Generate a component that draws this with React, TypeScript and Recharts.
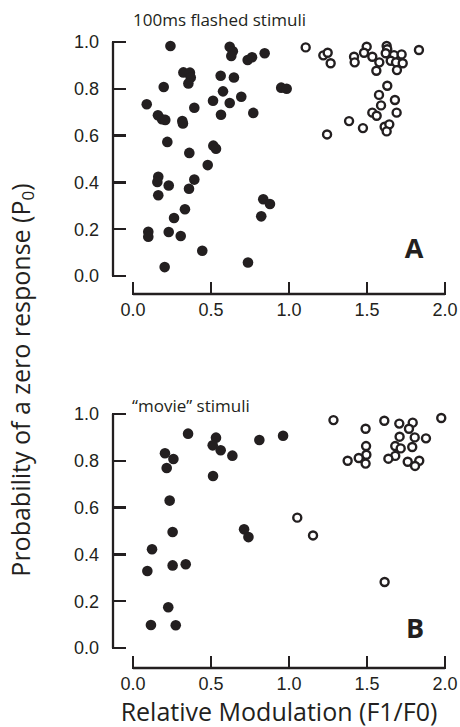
import { Label, Scatter, ScatterChart, XAxis, YAxis } from "recharts";

const INK = "#231f20";
const TICK_FONT = "'Liberation Sans', Arial, sans-serif";
const TEXT_FONT = "'Open Sans', 'Noto Sans', sans-serif";

const xTicks = [0, 0.5, 1, 1.5, 2];
const yTicks = [0, 0.2, 0.4, 0.6, 0.8, 1];

// panel A: 100ms flashed stimuli, [F1/F0, P0]
const flashedFilled: [number, number][] = [
  [0.24, 0.983], [0.62, 0.98], [0.64, 0.96], [0.63, 0.94], [0.735, 0.923],
  [0.763, 0.935], [0.844, 0.952], [0.323, 0.87], [0.365, 0.869], [0.37, 0.848],
  [0.355, 0.823], [0.562, 0.856], [0.647, 0.848], [0.197, 0.808], [0.95, 0.805],
  [0.985, 0.8], [0.577, 0.789], [0.513, 0.749], [0.62, 0.739], [0.694, 0.766],
  [0.088, 0.734], [0.393, 0.719], [0.564, 0.689], [0.771, 0.697], [0.16, 0.687],
  [0.186, 0.67], [0.207, 0.667], [0.316, 0.662], [0.32, 0.652], [0.22, 0.573],
  [0.515, 0.557], [0.532, 0.544], [0.361, 0.526], [0.479, 0.474], [0.162, 0.424],
  [0.156, 0.402], [0.229, 0.387], [0.393, 0.412], [0.359, 0.373], [0.162, 0.345],
  [0.835, 0.328], [0.878, 0.308], [0.822, 0.255], [0.333, 0.285], [0.263, 0.248],
  [0.098, 0.189], [0.098, 0.168], [0.229, 0.188], [0.306, 0.171], [0.444, 0.108],
  [0.737, 0.058], [0.203, 0.038],
];

const flashedOpen: [number, number][] = [
  [1.107, 0.977], [1.22, 0.943], [1.248, 0.954], [1.267, 0.909], [1.498, 0.98],
  [1.481, 0.954], [1.417, 0.937], [1.421, 0.913], [1.534, 0.937], [1.579, 0.913],
  [1.56, 0.877], [1.626, 0.983], [1.63, 0.969], [1.62, 0.952], [1.673, 0.944],
  [1.722, 0.947], [1.652, 0.92], [1.686, 0.913], [1.729, 0.909], [1.692, 0.88],
  [1.833, 0.966], [1.63, 0.813], [1.577, 0.774], [1.679, 0.752], [1.59, 0.729],
  [1.534, 0.698], [1.562, 0.685], [1.69, 0.698], [1.385, 0.662], [1.474, 0.632],
  [1.613, 0.638], [1.643, 0.648], [1.626, 0.618], [1.244, 0.605],
];

// panel B: "movie" stimuli
const movieFilled: [number, number][] = [
  [0.353, 0.916], [0.532, 0.899], [0.511, 0.866], [0.562, 0.845], [0.637, 0.822],
  [0.81, 0.889], [0.962, 0.907], [0.205, 0.832], [0.259, 0.808], [0.216, 0.769],
  [0.513, 0.735], [0.235, 0.63], [0.254, 0.496], [0.712, 0.507], [0.74, 0.474],
  [0.122, 0.422], [0.092, 0.329], [0.254, 0.353], [0.338, 0.358], [0.226, 0.174],
  [0.115, 0.098], [0.274, 0.097],
];

const movieOpen: [number, number][] = [
  [1.285, 0.974], [1.053, 0.557], [1.154, 0.481], [1.613, 0.282], [1.491, 0.937],
  [1.611, 0.971], [1.707, 0.959], [1.793, 0.963], [1.769, 0.937], [1.976, 0.983],
  [1.709, 0.903], [1.806, 0.9], [1.878, 0.896], [1.494, 0.863], [1.681, 0.863],
  [1.716, 0.853], [1.79, 0.859], [1.496, 0.826], [1.447, 0.812], [1.376, 0.8],
  [1.491, 0.788], [1.681, 0.821], [1.637, 0.809], [1.761, 0.796], [1.835, 0.8],
  [1.808, 0.778],
];

const toPoints = (pairs: [number, number][]) => pairs.map(([x, y]) => ({ x, y }));

const FilledDot = (props: any) => (
  <circle cx={props.cx} cy={props.cy} r={5.3} fill={INK} />
);

const OpenDot = (props: any) => (
  <circle cx={props.cx} cy={props.cy} r={4} fill="#fff" stroke={INK} strokeWidth={2.4} />
);

// ticks point inward, so the tick mark is drawn together with the label
const X_TICK_GAP = 9;
const Y_TICK_GAP = 14;

const XTick = (props: any) => {
  const { x, y, payload } = props;
  const axisY = y - X_TICK_GAP;
  return (
    <g>
      <line
        x1={x}
        x2={x}
        y1={axisY + 1}
        y2={axisY - 12}
        stroke={INK}
        strokeWidth={2.5}
        shapeRendering="crispEdges"
      />
      <text x={x} y={y} dy="0.71em" textAnchor="middle" fontSize={18} fill={INK} fontFamily={TICK_FONT}>
        {payload.value.toFixed(1)}
      </text>
    </g>
  );
};

const YTick = (props: any) => {
  const { x, y, payload } = props;
  const axisX = x + Y_TICK_GAP;
  return (
    <g>
      <line
        x1={axisX - 1}
        x2={axisX + 13}
        y1={y}
        y2={y}
        stroke={INK}
        strokeWidth={2.5}
        shapeRendering="crispEdges"
      />
      <text x={x} y={y} dy="0.36em" textAnchor="end" fontSize={18} fill={INK} fontFamily={TICK_FONT}>
        {payload.value.toFixed(1)}
      </text>
    </g>
  );
};

type PanelProps = {
  filled: [number, number][];
  open: [number, number][];
  height: number;
  bottomPad: number;
  axisHeight: number;
  marginBottom: number;
  xLabel?: string;
};

const Panel = ({ filled, open, height, bottomPad, axisHeight, marginBottom, xLabel }: PanelProps) => (
  <ScatterChart
    width={460}
    height={height}
    margin={{ top: 42, right: 15, bottom: marginBottom, left: 0 }}
  >
    <XAxis
      type="number"
      dataKey="x"
      domain={[0, 2]}
      ticks={xTicks}
      padding={{ left: 20, right: 0 }}
      height={axisHeight}
      tickSize={0}
      tickMargin={X_TICK_GAP}
      tickLine={false}
      axisLine={{ stroke: INK, strokeWidth: 2.3, strokeDasharray: "0 20 312 200" }}
      tick={<XTick />}
    >
      {xLabel && (
        <Label
          value={xLabel}
          position="insideBottom"
          offset={6}
          style={{ fontSize: 25, fill: INK, fontFamily: TEXT_FONT }}
        />
      )}
    </XAxis>
    <YAxis
      type="number"
      dataKey="y"
      domain={[0, 1]}
      ticks={yTicks}
      padding={{ top: 0, bottom: bottomPad }}
      width={113}
      tickSize={0}
      tickMargin={Y_TICK_GAP}
      tickLine={false}
      axisLine={{ stroke: INK, strokeWidth: 2.3, strokeDasharray: "234 200" }}
      tick={<YTick />}
    />
    <Scatter data={toPoints(filled)} shape={FilledDot} isAnimationActive={false} />
    <Scatter data={toPoints(open)} shape={OpenDot} isAnimationActive={false} />
  </ScatterChart>
);

export default function App() {
  return (
    <div style={{ position: "absolute", left: 0, top: 0, width: 460, height: 727 }}>
      {/* free text sits underneath the charts */}
      <svg width={460} height={727} style={{ position: "absolute", left: 0, top: 0 }}>
        <text x={133} y={26} fontSize={17} fill={INK} fontFamily={TEXT_FONT}>
          100ms flashed stimuli
        </text>
        <text x={132} y={412} fontSize={17} fill={INK} fontFamily={TEXT_FONT}>
          “movie” stimuli
        </text>
        <text x={414} y={258} fontSize={27} fontWeight="bold" textAnchor="middle" fill={INK} fontFamily={TEXT_FONT}>
          A
        </text>
        <text x={415} y={638} fontSize={27} fontWeight="bold" textAnchor="middle" fill={INK} fontFamily={TEXT_FONT}>
          B
        </text>
        <text
          transform="translate(30,380) rotate(-90)"
          textAnchor="middle"
          fontSize={25}
          fill={INK}
          fontFamily={TEXT_FONT}
        >
          Probability of a zero response (P
          <tspan fontSize={17} dy={4}>0</tspan>
          <tspan dy={-4}>)</tspan>
        </text>
      </svg>
      <div style={{ position: "absolute", left: 0, top: 0 }}>
        <Panel filled={flashedFilled} open={flashedOpen} height={340} bottomPad={18} axisHeight={30} marginBottom={16} />
      </div>
      <div style={{ position: "absolute", left: 0, top: 372 }}>
        <Panel
          filled={movieFilled}
          open={movieOpen}
          height={355}
          bottomPad={20}
          axisHeight={59}
          marginBottom={0}
          xLabel="Relative Modulation (F1/F0)"
        />
      </div>
    </div>
  );
}
